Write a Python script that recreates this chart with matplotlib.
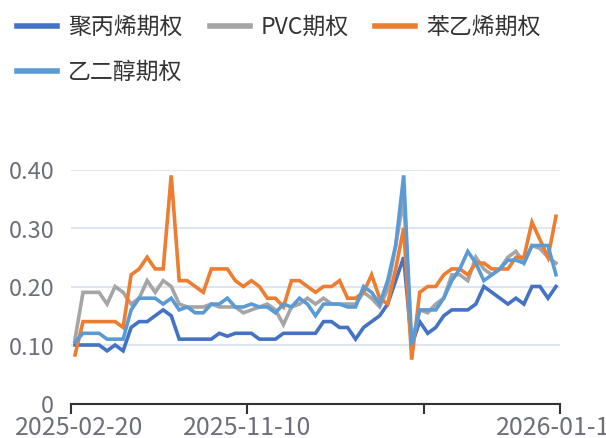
import numpy as np
import matplotlib
matplotlib.use("Agg")
import matplotlib.pyplot as plt
from matplotlib.lines import Line2D

plt.rcParams['font.family'] = ['Noto Sans CJK SC', 'DejaVu Sans']

# 61 trading points, only a few dates are labelled on the axis
tick_labels = ["2025-02-20", "2025-11-10", "2026-01-19"]

pp = [0.10, 0.10, 0.10, 0.10, 0.09, 0.10, 0.09, 0.13, 0.14, 0.14,
      0.15, 0.16, 0.15, 0.11, 0.11, 0.11, 0.11, 0.11, 0.12, 0.115,
      0.12, 0.12, 0.12, 0.11, 0.11, 0.11, 0.12, 0.12, 0.12, 0.12,
      0.12, 0.14, 0.14, 0.13, 0.13, 0.11, 0.13, 0.14, 0.15, 0.17,
      0.21, 0.25, 0.10, 0.14, 0.12, 0.13, 0.15, 0.16, 0.16, 0.16,
      0.17, 0.20, 0.19, 0.18, 0.17, 0.18, 0.17, 0.20, 0.20, 0.18,
      0.20]
pvc = [0.11, 0.19, 0.19, 0.19, 0.17, 0.20, 0.19, 0.17, 0.18, 0.21,
       0.19, 0.21, 0.20, 0.17, 0.165, 0.165, 0.165, 0.17, 0.165, 0.165,
       0.165, 0.155, 0.16, 0.165, 0.17, 0.16, 0.135, 0.165, 0.17, 0.18,
       0.17, 0.18, 0.17, 0.17, 0.17, 0.17, 0.19, 0.18, 0.165, 0.195,
       0.27, 0.35, 0.10, 0.16, 0.155, 0.17, 0.18, 0.22, 0.22, 0.21,
       0.25, 0.23, 0.22, 0.23, 0.25, 0.26, 0.24, 0.27, 0.265, 0.25,
       0.24]
eb = [0.083, 0.14, 0.14, 0.14, 0.14, 0.14, 0.13, 0.22, 0.23, 0.25,
      0.23, 0.23, 0.39, 0.21, 0.21, 0.20, 0.19, 0.23, 0.23, 0.23,
      0.21, 0.20, 0.21, 0.20, 0.18, 0.18, 0.165, 0.21, 0.21, 0.20,
      0.19, 0.20, 0.20, 0.21, 0.18, 0.18, 0.19, 0.22, 0.18, 0.17,
      0.23, 0.30, 0.075, 0.19, 0.20, 0.20, 0.22, 0.23, 0.23, 0.22,
      0.24, 0.24, 0.23, 0.23, 0.23, 0.25, 0.25, 0.31, 0.28, 0.25,
      0.32]
eg = [0.105, 0.12, 0.12, 0.12, 0.11, 0.11, 0.11, 0.16, 0.18, 0.18,
      0.18, 0.17, 0.18, 0.16, 0.165, 0.155, 0.155, 0.17, 0.17, 0.18,
      0.165, 0.165, 0.17, 0.165, 0.165, 0.155, 0.17, 0.165, 0.18, 0.17,
      0.15, 0.17, 0.17, 0.17, 0.165, 0.165, 0.20, 0.19, 0.17, 0.21,
      0.27, 0.39, 0.10, 0.16, 0.16, 0.16, 0.18, 0.21, 0.23, 0.26,
      0.24, 0.21, 0.22, 0.23, 0.245, 0.245, 0.24, 0.27, 0.27, 0.27,
      0.22]

names = ["聚丙烯期权", "PVC期权", "苯乙烯期权", "乙二醇期权"]
colors = ["#4472C4", "#A5A5A5", "#ED7D31", "#5B9BD5"]
series = [pp, pvc, eb, eg]

W, H = 606, 439
fig = plt.figure(figsize=(W / 100, H / 100), dpi=100)
ax = fig.add_axes([71 / W, 34.5 / H, 489 / W, 234 / H])

x = np.arange(len(pp))
for vals, c in zip(series, colors):
    ax.plot(x, vals, color=c, lw=2.6, solid_joinstyle='miter', clip_on=False)

ax.set_xlim(-0.5, len(pp) - 0.5)
ax.set_ylim(0, 0.4)
ax.set_yticks([0, 0.1, 0.2, 0.3, 0.4])
ax.set_yticklabels(["0", "0.10", "0.20", "0.30", "0.40"])
ax.grid(axis='y', color='#E0E6F1', lw=1.5)
ax.set_axisbelow(True)
for s in ['top', 'right', 'left']:
    ax.spines[s].set_visible(False)
ax.spines['bottom'].set_color('#333333')
ax.spines['bottom'].set_linewidth(1.5)
ax.tick_params(axis='y', length=0, pad=12, labelsize=17, labelcolor='#6E7079')

# ticks at band boundaries, labels placed separately
ax.set_xticks([-0.5, 21.5, 43.5, len(pp) - 0.5])
ax.set_xticklabels([])
ax.tick_params(axis='x', length=7, width=1.5, color='#333333')
label_pos = [0.5, 21.5, len(pp) - 0.5]
for p, t in zip(label_pos, tick_labels):
    ax.text(p, -0.045, t, ha='center', va='top', fontsize=18, color='#6E7079',
            transform=ax.get_xaxis_transform(), clip_on=False)

# legend drawn by hand
leg = [(17, 27, 68), (210, 27, 261), (375, 27, 426), (17, 72, 68)]
for (lx, ly, tx), name, c in zip(leg, names, colors):
    fig.add_artist(Line2D([lx / W, (lx + 40) / W], [1 - ly / H, 1 - ly / H],
                          color=c, lw=4, transform=fig.transFigure))
    fig.text(tx / W, 1 - ly / H, name, ha='left', va='center', fontsize=16.5,
             color='#333333')

fig.savefig("out.png", dpi=100)
